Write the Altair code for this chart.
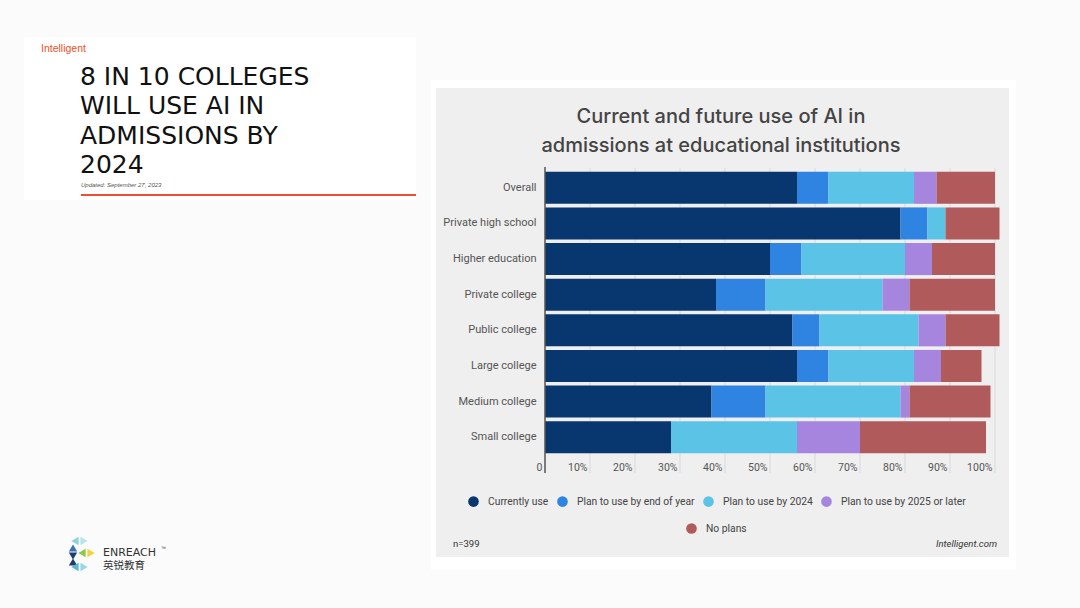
import altair as alt
import pandas as pd

# ---------------- data ----------------
categories = ["Overall", "Private high school", "Higher education", "Private college",
              "Public college", "Large college", "Medium college", "Small college"]
series = ["Currently use", "Plan to use by end of year", "Plan to use by 2024",
          "Plan to use by 2025 or later", "No plans"]
currently_use = [56, 79, 50, 38, 55, 56, 37, 28]
end_of_year = [7, 6, 7, 11, 6, 7, 12, 0]
by_2024 = [19, 4, 23, 26, 22, 19, 30, 28]
by_2025_later = [5, 0, 6, 6, 6, 6, 2, 14]
no_plans = [13, 12, 14, 19, 12, 9, 18, 28]
tick_values = [0, 10, 20, 30, 40, 50, 60, 70, 80, 90, 100]
colors = ["#08366f", "#2e84e0", "#5bc4e6", "#a685de", "#b05a5b"]

values = [currently_use, end_of_year, by_2024, by_2025_later, no_plans]
rows = []
for i, cat in enumerate(categories):
    start = 0
    for s, vals in zip(series, values):
        v = vals[i]
        rows.append({"category": cat, "series": s, "value": v, "start": start, "end": start + v})
        start += v
df = pd.DataFrame(rows)
df_main = df[df["series"] != "No plans"]
df_no = df[df["series"] == "No plans"]
grid_df = pd.DataFrame({"t": tick_values[1:]})
dummy = pd.DataFrame({"a": [0]})

# plot origin on the page
OX, OY = 545, 170
W, H = 450, 285
FONT = "Roboto"


def rect(x1, x2, y1, y2, color):
    return alt.Chart(dummy).mark_rect(color=color).encode(
        x=alt.value(x1 - OX), x2=alt.value(x2 - OX), y=alt.value(y1 - OY), y2=alt.value(y2 - OY))


def text(t, x, y, align="left", size=11, color="#333", font=FONT, weight="normal", style="normal",
         line_height=None):
    kw = dict(text=t, align=align, baseline="middle", fontSize=size, color=color, font=font,
              fontWeight=weight, fontStyle=style)
    if line_height is not None:
        kw["lineHeight"] = line_height
    return alt.Chart(dummy).mark_text(**kw).encode(x=alt.value(x - OX), y=alt.value(y - OY))


def tri(x, y, shape, color, size=70):
    return alt.Chart(dummy).mark_point(shape=shape, filled=True, size=size, color=color, opacity=1).encode(
        x=alt.value(x - OX), y=alt.value(y - OY))


x_scale = alt.Scale(domain=[0, 100], nice=False, zero=True)
x_axis = alt.Axis(values=tick_values, labelExpr="datum.value == 0 ? '0' : datum.value + '%'",
                  grid=False, domain=False, ticks=False, labelAlign="right", labelOffset=-3,
                  labelPadding=7, labelFontSize=10.5, labelColor="#555", labelFont=FONT,
                  zindex=1, title=None)
y_enc = alt.Y("category:N", sort=categories, title=None,
              scale=alt.Scale(paddingInner=0.1, paddingOuter=0.05),
              axis=alt.Axis(domain=False, ticks=False, labelPadding=9, labelFontSize=11,
                            labelColor="#555", labelFont=FONT, zindex=1, title=None, labelLimit=300))

backgrounds = [
    rect(24, 416, 37, 200, "#ffffff"),
    rect(431, 1016, 80, 570, "#ffffff"),
    rect(436, 1009, 88, 557, "#efefef"),
]

grid = alt.Chart(grid_df).mark_rule(color="#d9d9d9", strokeWidth=1).encode(
    x=alt.X("t:Q", scale=x_scale, axis=x_axis, title=None),
    y=alt.value(-2), y2=alt.value(H + 18))

bars = alt.Chart(df_main).mark_bar().encode(
    x=alt.X("start:Q", scale=x_scale, axis=x_axis, title=None),
    x2="end:Q",
    y=y_enc,
    color=alt.Color("series:N", scale=alt.Scale(domain=series[:4], range=colors[:4]),
                    legend=alt.Legend(orient="none", legendX=-77, legendY=326, direction="horizontal",
                                      title=None, symbolType="circle", symbolSize=113,
                                      symbolStrokeWidth=0, labelFontSize=10.3, labelFont=FONT,
                                      labelColor="#444", labelOffset=9, columnPadding=8, padding=0)),
)

bars_no = alt.Chart(df_no).mark_bar().encode(
    x=alt.X("start:Q", scale=x_scale, axis=x_axis, title=None),
    x2="end:Q",
    y=y_enc,
    fill=alt.Fill("series:N", scale=alt.Scale(domain=series[4:], range=colors[4:]),
                  legend=alt.Legend(orient="none", legendX=141, legendY=353, direction="horizontal",
                                    title=None, symbolType="circle", symbolSize=113,
                                    symbolStrokeWidth=0, labelFontSize=10.3, labelFont=FONT,
                                    labelColor="#444", labelOffset=9, padding=0)),
)

axis_line = alt.Chart(dummy).mark_rule(color="#555555", strokeWidth=1.5).encode(
    x=alt.value(0), y=alt.value(-3), y2=alt.value(H + 18))

TITLE_FONT = "Inter"
BIG = "DejaVu Sans"
texts = [
    text(["Current and future use of AI in", "admissions at educational institutions"], 721, 117,
         align="center", size=20, color="#444", font=TITLE_FONT, weight=500, line_height=29),
    text("n=399", 453, 544, size=9.5, color="#333"),
    text("Intelligent.com", 997, 544, align="right", size=9.5, color="#333", style="italic"),
    text("Intelligent", 41, 49, size=10.5, color="#f0502a", font="Liberation Sans"),
    text(["8 IN 10 COLLEGES", "WILL USE AI IN", "ADMISSIONS BY", "2024"], 80, 77,
         size=25, color="#111", font=BIG, line_height=29.3),
    text("Updated: September 27, 2023", 81, 185, size=6, color="#555", font="Liberation Sans", style="italic"),
    text("ENREACH", 103, 553, size=11, color="#333", font="DejaVu Sans"),
    text("™", 161, 548, size=5, color="#333", font="Liberation Sans"),
    text("英锐教育", 103, 566, size=10.5, color="#333", font="Noto Sans CJK SC"),
]

red_line = alt.Chart(dummy).mark_rule(color="#f04e30", strokeWidth=2).encode(
    x=alt.value(81 - OX), x2=alt.value(416 - OX), y=alt.value(195 - OY))

logo = [
    tri(75, 541, "triangle-left", "#8fd3d9"),
    tri(84, 541, "triangle-right", "#b7e4ea"),
    tri(73, 548, "triangle-up", "#3b6fb6"),
    tri(73, 556, "triangle-down", "#1c3e6e"),
    tri(82, 553, "triangle-left", "#8cc84b"),
    tri(91, 553, "triangle-right", "#f2d33a"),
    tri(73, 562, "triangle-up", "#1c3e6e"),
    tri(75, 567, "triangle-left", "#5ab7d6"),
    tri(84, 567, "triangle-right", "#9ad6e2"),
]

chart = alt.layer(*backgrounds, grid, bars, bars_no, axis_line, red_line, *texts, *logo).properties(
    width=W, height=H,
    padding={"left": OX, "top": OY, "right": 1080 - OX - W, "bottom": 608 - OY - H},
    autosize=alt.AutoSizeParams(type="none"),
    background="#fbfbfb",
).configure_view(stroke=None)

chart.save("out.html", embed_options={"renderer": "svg", "actions": False})
